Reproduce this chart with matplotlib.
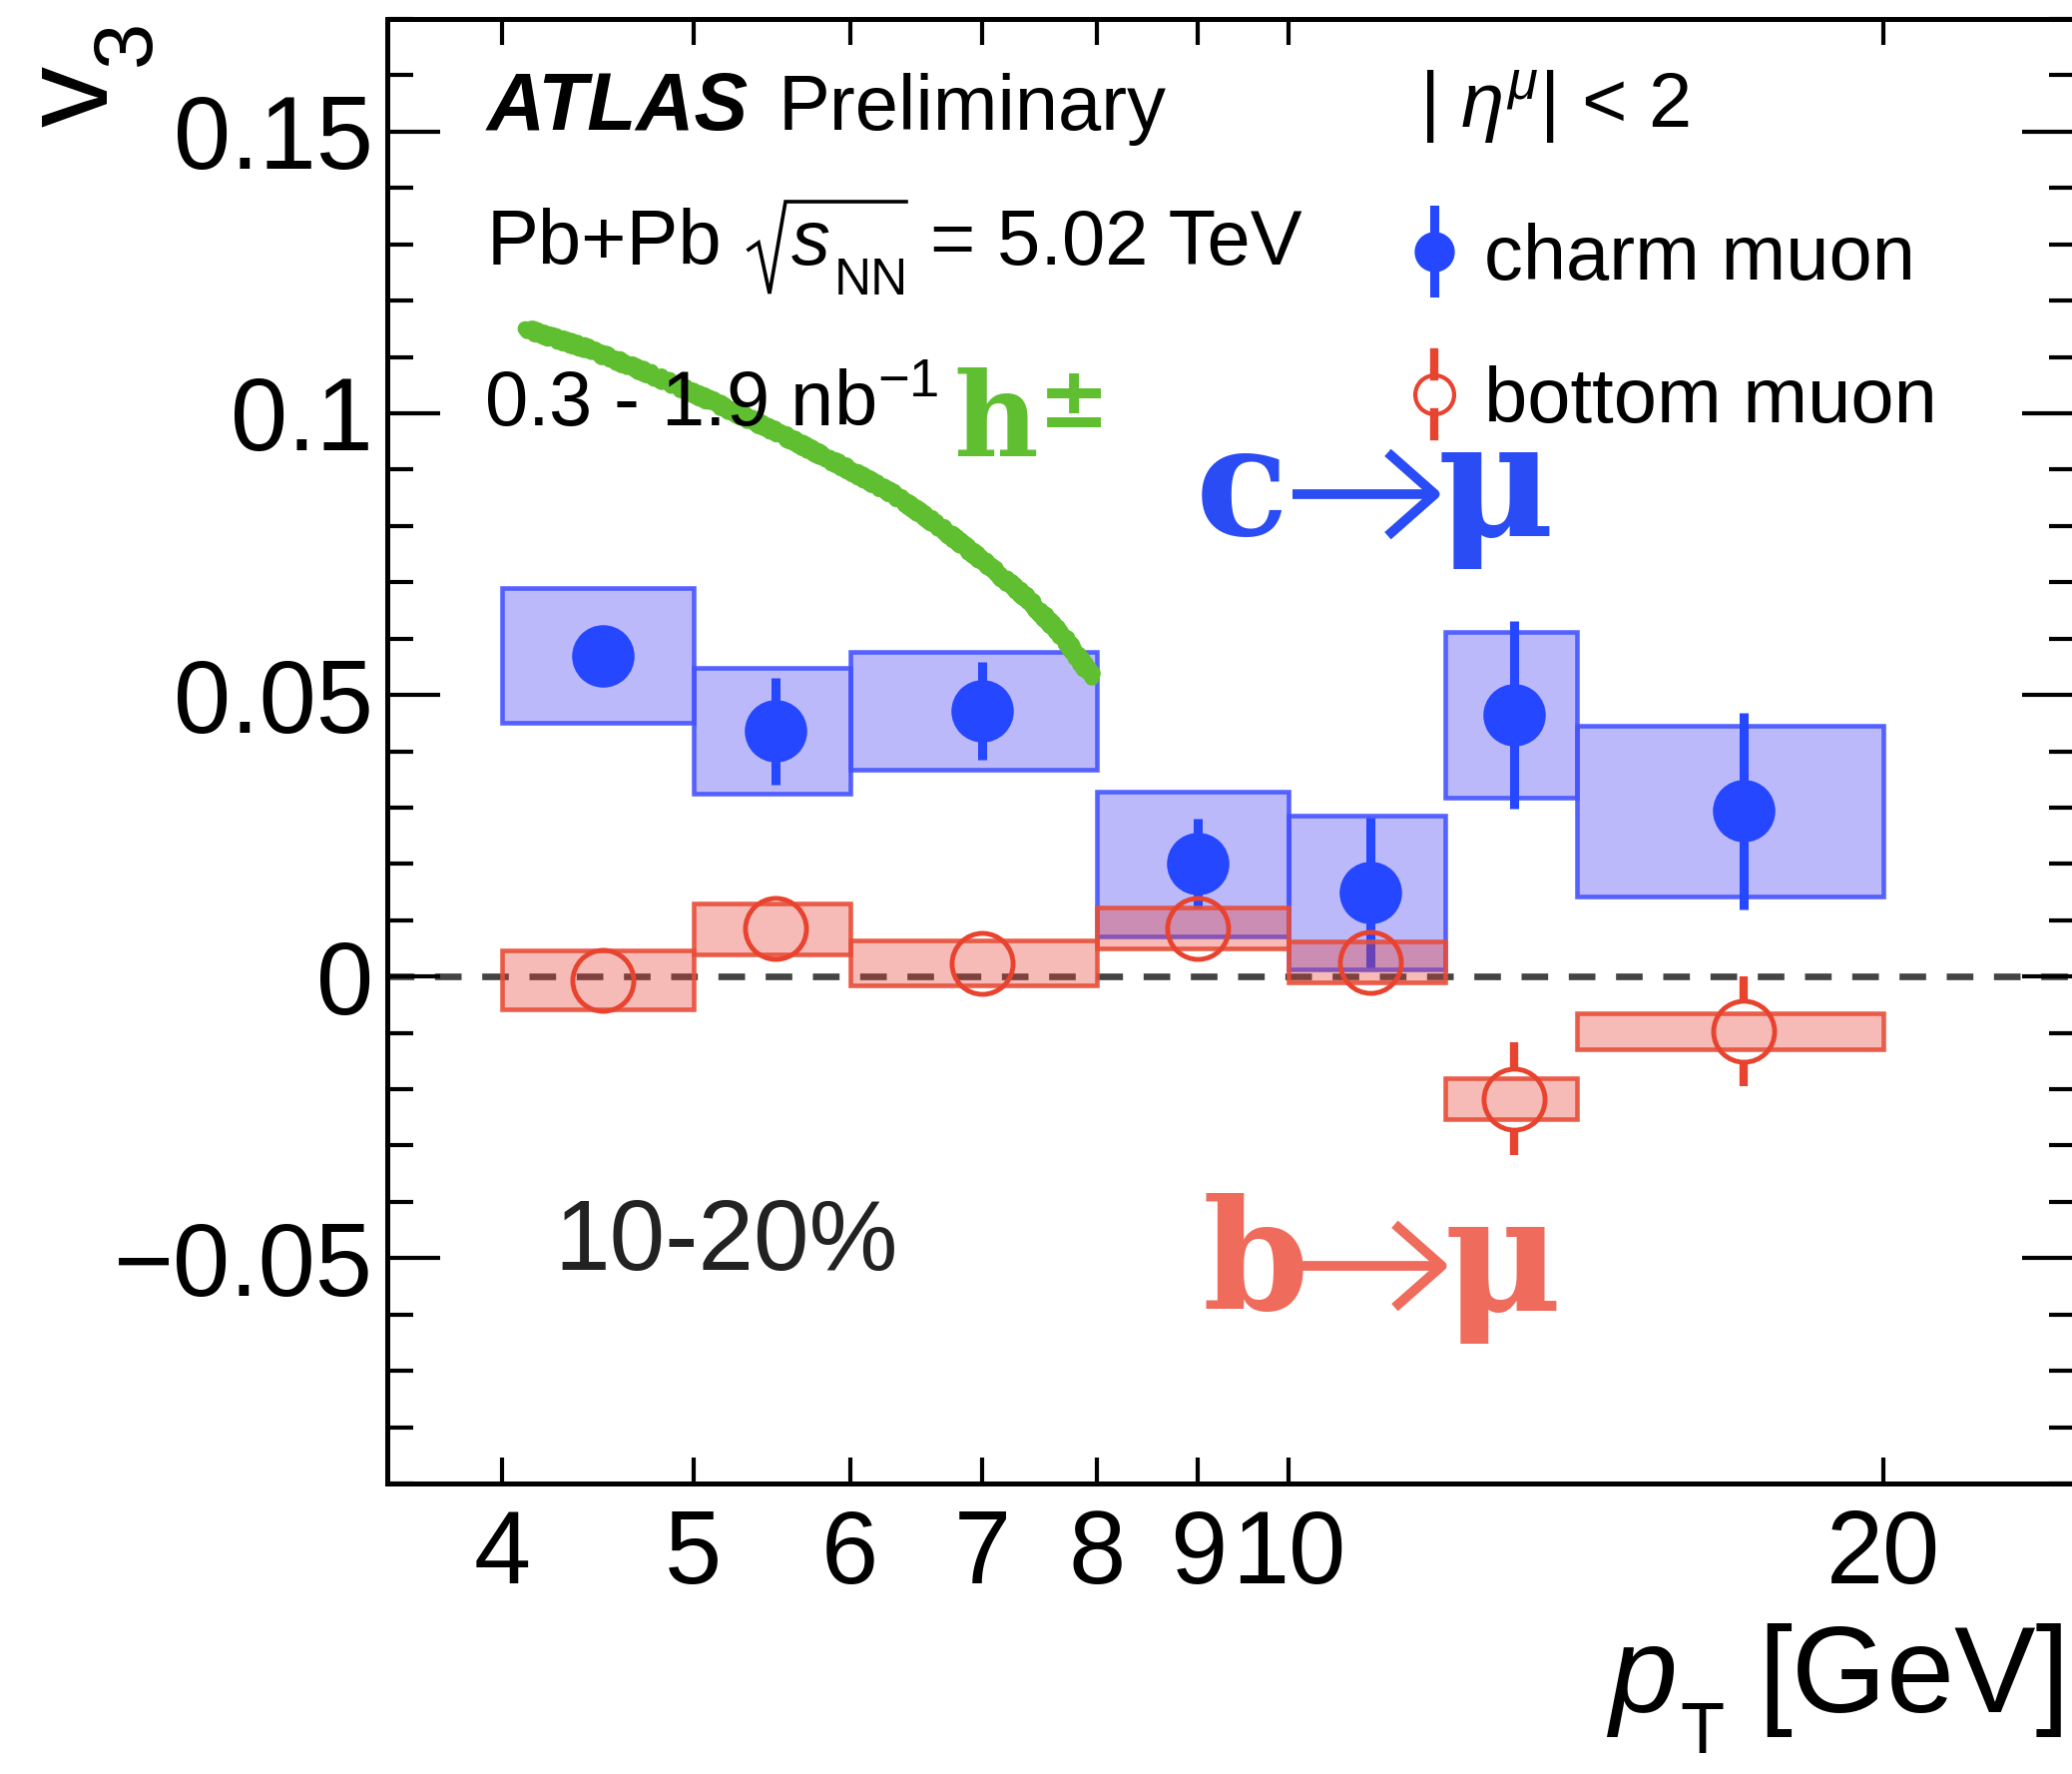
import matplotlib
matplotlib.use('Agg')
import matplotlib.pyplot as plt
from matplotlib.patches import Rectangle, FancyArrowPatch
from matplotlib.lines import Line2D
from matplotlib.ticker import FixedLocator, FixedFormatter, MultipleLocator, NullLocator, FuncFormatter

# ---- fonts ----
plt.rcParams['font.family'] = ['Liberation Sans', 'DejaVu Sans']
plt.rcParams['mathtext.fontset'] = 'custom'
plt.rcParams['mathtext.rm'] = 'Liberation Sans'
plt.rcParams['mathtext.it'] = 'Liberation Sans:italic'
plt.rcParams['mathtext.bf'] = 'Liberation Sans:bold'
plt.rcParams['mathtext.sf'] = 'Liberation Sans'

# ---- data: v3 of heavy-flavour muons, 10-20% centrality ----
bin_edges = [4, 5, 6, 8, 10, 12, 14, 20]
pt_centers = [4.5, 5.5, 7.0, 9.0, 11.0, 13.0, 17.0]

charm_v3 = [0.0570, 0.0436, 0.0472, 0.0200, 0.0149, 0.0465, 0.0294]
charm_stat = [0.0040, 0.0095, 0.0087, 0.0080, 0.0133, 0.0167, 0.0175]
charm_sys = [0.0120, 0.0112, 0.0104, 0.0129, 0.0137, 0.0147, 0.0152]

bottom_v3 = [-0.0006, 0.0085, 0.0024, 0.0086, 0.0026, -0.0217, -0.0097]
bottom_stat = [0.0040, 0.0040, 0.0040, 0.0040, 0.0050, 0.0100, 0.0098]
bottom_sys = [0.0052, 0.0045, 0.0040, 0.0036, 0.0037, 0.0036, 0.0032]

# charged hadron v3 sketched on top
hadron_pt = [4.11, 4.40, 4.75, 5.14, 5.55, 6.00, 6.32, 6.66, 7.01, 7.39, 7.70, 7.96]
hadron_v3 = [0.1150, 0.1117, 0.1070, 0.1017, 0.0961, 0.0899, 0.0855, 0.0799,
             0.0737, 0.0669, 0.0601, 0.0531]

xtick_vals = [4, 5, 6, 7, 8, 9, 10, 20]
xtick_labels = ['4', '5', '6', '7', '8', '9', '10', '20']

W, H = 2076, 1777
BLUE = '#2447ff'
RED = '#e8432f'
GREEN = '#5fbf31'


def fx(x):
    return x / W


def fy(y):
    return 1 - y / H


fig = plt.figure(figsize=(W / 100, H / 100), dpi=100)
ax = fig.add_axes([388 / W, 1 - 1486 / H, (2079 - 388) / W, (1486 - 19) / H])
ax.set_xscale('log')
ax.set_xlim(3.5, 25)
ax.set_ylim(-0.09, 0.17)

ax.axhline(0, color='#444444', lw=4.8, dashes=(4, 3.1), zorder=1)

# systematic boxes
for i in range(len(pt_centers)):
    lo, hi = bin_edges[i], bin_edges[i + 1]
    ax.add_patch(Rectangle((lo, charm_v3[i] - charm_sys[i]), hi - lo, 2 * charm_sys[i],
                           facecolor=(0.25, 0.22, 0.95, 0.35),
                           edgecolor=(0.27, 0.33, 1.0, 0.9), lw=3.3, zorder=2))

ms = 44
ax.errorbar(pt_centers, charm_v3, yerr=charm_stat, fmt='o', ms=ms, color=BLUE,
            elinewidth=6.5, capsize=0, zorder=3)

for i in range(len(pt_centers)):
    lo, hi = bin_edges[i], bin_edges[i + 1]
    ax.add_patch(Rectangle((lo, bottom_v3[i] - bottom_sys[i]), hi - lo, 2 * bottom_sys[i],
                           facecolor=(0.91, 0.24, 0.2, 0.35),
                           edgecolor=(0.91, 0.3, 0.22, 0.9), lw=3.3, zorder=4))

# open markers: error bars stop at the circle
ylo, yhi = ax.get_ylim()
r = (ms * 100 / 72 / 2) / (1486 - 19) * (yhi - ylo)
for x, y, e in zip(pt_centers, bottom_v3, bottom_stat):
    if e > r:
        ax.vlines(x, y + r, y + e, color=RED, lw=6, zorder=5)
        ax.vlines(x, y - e, y - r, color=RED, lw=6, zorder=5)
ax.plot(pt_centers, bottom_v3, 'o', ms=ms, mfc='none', mec=RED, mew=3.5, zorder=6)

hline, = ax.plot(hadron_pt, hadron_v3, color=GREEN, lw=11, solid_capstyle='round', zorder=7)
hline.set_sketch_params(scale=3, length=8, randomness=4)

# axes styling
ax.xaxis.set_major_locator(FixedLocator(xtick_vals))
ax.xaxis.set_major_formatter(FixedFormatter(xtick_labels))
ax.xaxis.set_minor_locator(NullLocator())
ax.yaxis.set_major_locator(MultipleLocator(0.05))
ax.yaxis.set_minor_locator(MultipleLocator(0.01))
ax.yaxis.set_major_formatter(FuncFormatter(
    lambda v, p: '0' if abs(v) < 1e-9 else f'{round(v, 4):g}'.replace('-', '\u2212')))
ax.tick_params(which='both', direction='in', top=True, right=True, width=3,
               labelsize=74, color='black')
ax.tick_params(axis='x', which='major', length=19, pad=18)
ax.tick_params(axis='y', which='major', length=38, pad=10)
ax.tick_params(axis='y', which='minor', length=19)
for sp in ax.spines.values():
    sp.set_linewidth(3.6)

# axis titles
fig.text(fx(108), fy(127), 'v', size=88, rotation=90, rotation_mode='anchor',
         ha='left', va='baseline')
fig.text(fx(150), fy(66), '3', size=60, rotation=90, rotation_mode='anchor',
         ha='left', va='baseline')
fig.text(fx(1612), fy(1715), 'p', size=88, style='italic', va='baseline')
fig.text(fx(1683), fy(1756), 'T', size=52, va='baseline')
fig.text(fx(2074), fy(1715), '[GeV]', size=88, ha='right', va='baseline')

# labels inside the frame
fig.text(fx(488), fy(130), 'ATLAS', size=58, weight='bold', style='italic', va='baseline')
fig.text(fx(780), fy(130), 'Preliminary', size=56, va='baseline')
fig.text(fx(488), fy(265), 'Pb+Pb', size=56, va='baseline')
# square root sign of sqrt(s_NN)
fig.add_artist(Line2D([fx(750), fx(760), fx(771), fx(787), fx(908)],
                      [fy(250), fy(243), fy(294), fy(202), fy(202)],
                      color='black', lw=2.6, solid_joinstyle='miter'))
fig.text(fx(793), fy(265), 's', size=56, style='italic', va='baseline')
fig.text(fx(836), fy(295), 'NN', size=37, va='baseline')
fig.text(fx(932), fy(265), '= 5.02 TeV', size=56, va='baseline')
fig.text(fx(485), fy(427), r'0.3 - 1.9 nb$^{-1}$', size=56, va='baseline')
fig.text(fx(1422), fy(128), r'| $\eta^{\mu}$| < 2', size=56, va='baseline')
fig.text(fx(555), fy(1272), '10-20%', size=72, color='#222222', va='baseline')

# legend
fig.add_artist(Line2D([fx(1437)] * 2, [fy(210), fy(293)], color=BLUE, lw=6.5))
fig.add_artist(Line2D([fx(1437)], [fy(252)], marker='o', ms=28, color=BLUE, lw=0))
fig.text(fx(1487), fy(280), 'charm muon', size=56, va='baseline')
fig.add_artist(Line2D([fx(1437)] * 2, [fy(353), fy(377)], color=RED, lw=6))
fig.add_artist(Line2D([fx(1437)] * 2, [fy(413), fy(437)], color=RED, lw=6))
fig.add_artist(Line2D([fx(1437)], [fy(395)], marker='o', ms=28, mfc='none', mec=RED,
                      mew=3, lw=0))
fig.text(fx(1487), fy(423), 'bottom muon', size=56, va='baseline')

# hand-written annotations
fig.text(fx(955), fy(458), 'h', size=84, family='DejaVu Serif', weight='bold',
         color=GREEN, va='baseline')
fig.text(fx(1040), fy(428), '\u00b1', size=62, family='DejaVu Sans', weight='bold',
         color=GREEN, va='baseline')


def decay_label(letter, x0, base, arrow_y, arrow_x0, arrow_x1, mu_x, color):
    fig.text(fx(x0), fy(base), letter, size=110, family='DejaVu Serif', weight='bold',
             color=color, va='baseline')
    fig.add_artist(FancyArrowPatch((fx(arrow_x0), fy(arrow_y)), (fx(arrow_x1), fy(arrow_y)),
                                   transform=fig.transFigure,
                                   arrowstyle='->,head_length=34,head_width=30',
                                   mutation_scale=1, lw=7, color=color,
                                   shrinkA=0, shrinkB=0, capstyle='butt'))
    fig.text(fx(mu_x), fy(base), '\u03bc', size=116, family='DejaVu Serif', weight='bold',
             color=color, va='baseline')


decay_label('c', 1198, 536, 495, 1295, 1445, 1440, '#2a4cf5')
decay_label('b', 1205, 1312, 1268, 1302, 1452, 1447, '#ef6b5b')

fig.savefig('out.png', dpi=100)
